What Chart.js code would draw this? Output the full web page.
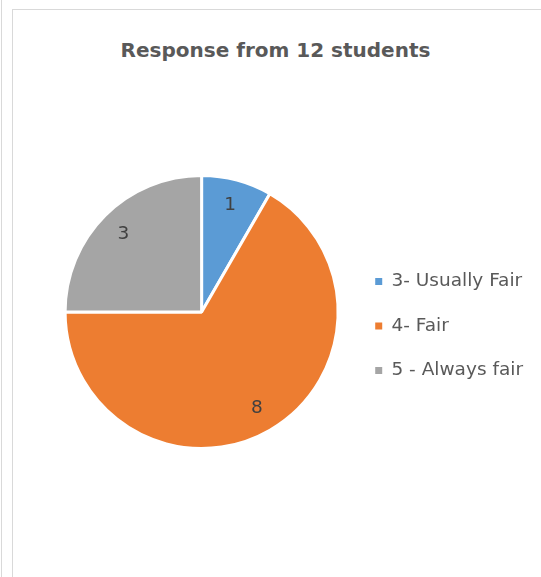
<!DOCTYPE html>
<html>
<head>
<meta charset="utf-8">
<script src="https://cdn.jsdelivr.net/npm/chart.js@4/dist/chart.umd.min.js"></script>
<style>
    html, body { margin: 0; padding: 0; background: #fff; }
    #wrap { position: relative; width: 541px; height: 577px; overflow: hidden; }
    #lineaExterna { position: absolute; left: 1px; top: 0; width: 1px; height: 577px; background: #d9d9d9; }
    #marco { position: absolute; left: 12px; top: 9px; right: -2px; bottom: -2px; border-left: 1px solid #d9d9d9; border-top: 1px solid #d9d9d9; }
    #titulo { position: absolute; left: 10px; right: 0; top: 37px; text-align: center;
              font-family: "DejaVu Sans", sans-serif; font-weight: bold; font-size: 20px; line-height: 26px; color: #595959; }
    canvas { position: absolute; left: 0; top: 0; }
</style>
</head>
<body>
<div id="wrap">
    <div id="lineaExterna"></div>
    <div id="marco"></div>
    <div id="titulo">Response from 12 students</div>
    <canvas id="chartRespuestas" width="541" height="577"></canvas>
</div>
<script>
const categorias = ['3- Usually Fair', '4- Fair', '5 - Always fair'];
const respuestas = [1, 8, 3];
const colores = ['#5B9BD5', '#ED7D31', '#A5A5A5'];

// etiquetas con el valor dentro de cada porcion
const etiquetasPie = {
    id: 'etiquetasPie',
    afterDatasetsDraw(chart) {
        const ctx = chart.ctx;
        const meta = chart.getDatasetMeta(0);
        ctx.save();
        ctx.font = '18.5px "DejaVu Sans", sans-serif';
        ctx.fillStyle = '#404040';
        ctx.textAlign = 'center';
        ctx.textBaseline = 'middle';
        meta.data.forEach((arc, i) => {
            const p = arc.getProps(['x', 'y', 'startAngle', 'endAngle', 'outerRadius'], true);
            const ang = (p.startAngle + p.endAngle) / 2;
            const r = p.outerRadius * 0.81;
            ctx.fillText(String(chart.data.datasets[0].data[i]), p.x + Math.cos(ang) * r, p.y + Math.sin(ang) * r);
        });
        ctx.restore();
    }
};

const ctx = document.getElementById('chartRespuestas').getContext('2d');

new Chart(ctx, {
    type: 'pie',
    data: {
        labels: categorias,
        datasets: [{
            data: respuestas,
            backgroundColor: colores,
            borderColor: '#ffffff',
            borderWidth: 3
        }]
    },
    options: {
        responsive: false,
        animation: false,
        layout: {
            padding: { top: 174, bottom: 127, left: 54, right: 8 }
        },
        plugins: {
            legend: {
                position: 'right',
                title: { display: true, text: ' ', padding: 0, font: { size: 14, lineHeight: 2 } },
                labels: {
                    boxWidth: 7,
                    boxHeight: 7,
                    padding: 26,
                    color: '#595959',
                    font: { family: 'DejaVu Sans', size: 18.5 },
                    generateLabels(chart) {
                        const items = Chart.overrides.pie.plugins.legend.labels.generateLabels(chart);
                        items.forEach(it => { it.lineWidth = 0; it.strokeStyle = it.fillStyle; });
                        return items;
                    }
                }
            },
            tooltip: { enabled: false }
        }
    },
    plugins: [etiquetasPie]
});
</script>
</body>
</html>
